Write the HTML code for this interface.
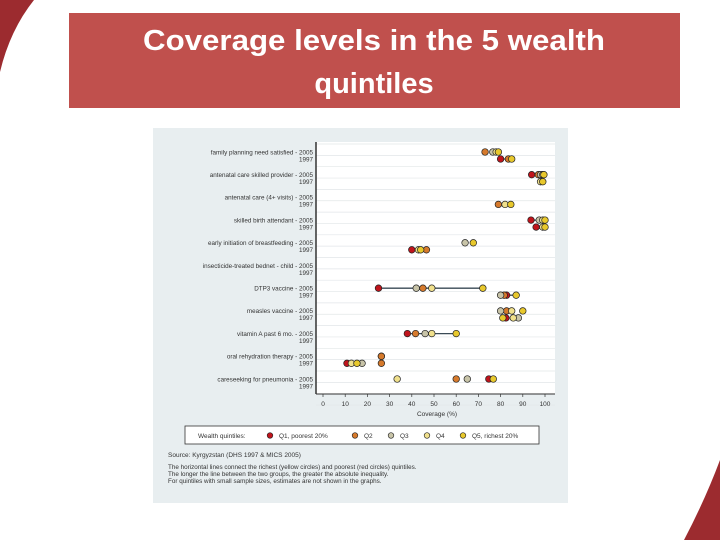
<!DOCTYPE html>
<html><head><meta charset="utf-8"><style>
body{margin:0;width:720px;height:540px;background:#fff;overflow:hidden;position:relative;font-family:"Liberation Sans",sans-serif}
svg{position:absolute;left:0;top:0}
</style></head><body>
<svg id="s" width="720" height="540">
<path d="M0,0 L34,0 Q10,30 0,72 Z" fill="#9c2b2f"/>
<path d="M720,460 Q705,500 684,540 L720,540 Z" fill="#9c2b2f"/>
<rect x="69" y="13" width="611" height="95" fill="#c0504d"/>
<text x="374" y="50" text-anchor="middle" font-size="29" font-weight="bold" fill="#fff" textLength="462" lengthAdjust="spacingAndGlyphs">Coverage levels in the 5 wealth</text>
<text x="374" y="93" text-anchor="middle" font-size="29" font-weight="bold" fill="#fff">quintiles</text>
<rect x="153" y="128" width="415" height="375" fill="#e8eef0"/>
<rect x="316" y="142" width="239" height="252" fill="#fff"/>
<g id="grid"></g><g id="ylab"></g><g id="lines"></g><g id="marks"></g><g id="xax"></g>
<line x1="316" y1="142" x2="316" y2="394" stroke="#333" stroke-width="1.5"/>
<line x1="316" y1="394" x2="555" y2="394" stroke="#333" stroke-width="1"/>
<text x="437" y="416" text-anchor="middle" font-size="6.5" fill="#333">Coverage (%)</text>
<g>
<rect x="185" y="426" width="354" height="18" fill="#fff" stroke="#333" stroke-width="0.8"/>
<text x="198" y="438" font-size="6.5" fill="#333">Wealth quintiles:</text>
<g id="leg"></g>
</g>
<text x="168" y="457" font-size="6.5" fill="#333">Source: Kyrgyzstan (DHS 1997 &amp; MICS 2005)</text>
<text x="168" y="469" font-size="6.3" fill="#333">The horizontal lines connect the richest (yellow circles) and poorest (red circles) quintiles.</text>
<text x="168" y="476" font-size="6.3" fill="#333">The longer the line between the two groups, the greater the absolute inequality.</text>
<text x="168" y="483" font-size="6.3" fill="#333">For quintiles with small sample sizes, estimates are not shown in the graphs.</text>
</svg>
<script>
const indicators=["family planning need satisfied","antenatal care skilled provider","antenatal care (4+ visits)","skilled birth attendant","early initiation of breastfeeding","insecticide-treated bednet - child","DTP3 vaccine","measles vaccine","vitamin A past 6 mo.","oral rehydration therapy","careseeking for pneumonia"];
const xTicks=[0,10,20,30,40,50,60,70,80,90,100];
const quintiles=["Q1, poorest 20%","Q2","Q3","Q4","Q5, richest 20%"];
const colors=["#c0141c","#d67a2c","#c8c4a8","#f0e08c","#e8c82c"];
// values [Q1,Q2,Q3,Q4,Q5], null = not shown
const v2005=[[null,73,76.5,78,79],[94,97,98,99,99.5],[null,null,null,null,null],[93.7,null,97.4,99,100],[null,null,64,null,67.7],[null,null,null,null,null],[25,45,42,49,72],[null,82.7,80,85,90],[38,41.7,46,49,60],[26.3,26.3,null,null,null],[74.7,60,65,33.4,76.7]];
const v1997=[[80,83.5,null,null,85],[null,null,null,98,99],[null,79,null,82,84.6],[96,null,null,99,100],[40,46.6,null,43,44],[null,null,null,null,null],[82.7,81.6,80,null,87],[82.4,null,88,85.7,81],[null,null,null,null,null],[10.8,26.3,17.6,12.8,15.3],[null,null,null,null,null]];
const NS="http://www.w3.org/2000/svg";
function X(v){return 323+v*2.22;}
function Y(i,y){return 152+i*22.7+(y===1997?7:0);}
function mk(t,a,p){const e=document.createElementNS(NS,t);for(const k in a)e.setAttribute(k,a[k]);document.getElementById(p).appendChild(e);return e;}
for(let k=0;k<=23;k++){
  const l=mk('line',{x1:316,x2:555,y1:144+k*11.35,y2:144+k*11.35,stroke:'#e2e6e8','stroke-width':0.7},'grid');
  
  
}
indicators.forEach((n,i)=>{
  [2005,1997].forEach(yr=>{
    const t=mk('text',{x:313,y:Y(i,yr)+2.3,'text-anchor':'end','font-size':6.3,fill:'#333'},'ylab');
    t.textContent=yr===2005?n+" - 2005":"1997";
    
    
    const vals=yr===2005?v2005[i]:v1997[i];
    if(vals[0]!=null&&vals[4]!=null){
      const l=mk('line',{x1:X(vals[0]),x2:X(vals[4]),y1:Y(i,yr),y2:Y(i,yr),stroke:'#3a4a55','stroke-width':1.3},'lines');
      
      
    }
    vals.forEach((v,q)=>{
      if(v==null)return;
      const c=mk('circle',{cx:X(v),cy:Y(i,yr),r:3.3,fill:colors[q],stroke:'#222','stroke-width':0.7},'marks');
      
      
    });
  });
});
xTicks.forEach(t=>{
  const l=mk('line',{x1:X(t),x2:X(t),y1:394,y2:397,stroke:'#333','stroke-width':0.7},'xax');
  
  
  const tx=mk('text',{x:X(t),y:406,'text-anchor':'middle','font-size':6.5,fill:'#333'},'xax');
  tx.textContent=t;
  
  
});
const lx=[270,355,391,427,463];
quintiles.forEach((q,k)=>{
  const c=mk('circle',{cx:lx[k],cy:435.5,r:2.8,fill:colors[k],stroke:'#222','stroke-width':0.6},'leg');
  
  
  const t=mk('text',{x:lx[k]+9,y:438,'font-size':6.5,fill:'#333'},'leg');
  t.textContent=q;
  
  
});
</script>
</body></html>
